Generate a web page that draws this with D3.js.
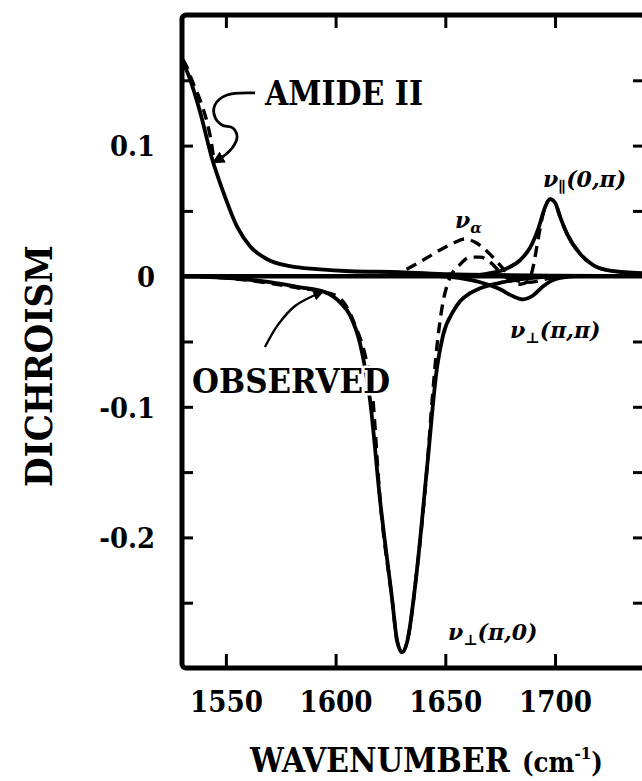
<!DOCTYPE html>
<html><head><meta charset="utf-8">
<script src="https://cdn.jsdelivr.net/npm/d3@7"></script>
<style>
html,body{margin:0;padding:0;background:#fff;}
svg{display:block;}
</style></head><body>
<svg id="chart" width="642" height="781"></svg>
<script>
// ---------- data ----------
const wavenumberDomain = [1530, 1741];
const dichroismDomain = [-0.3, 0.2];
const wavenumberTicks = [1550, 1600, 1650, 1700];
const dichroismLabelTicks = [0.1, 0, -0.1, -0.2];
const dichroismTicks = [0.15, 0.1, 0.05, 0, -0.05, -0.1, -0.15, -0.2, -0.25];

// calculated amide II (solid)
const amideIICalc = [[1530,0.164],[1531.4,0.160],[1538.2,0.126],[1543.7,0.090],[1548.7,0.065],[1555.1,0.038],[1561.0,0.023],[1568.8,0.013],[1579.2,0.0077],[1591.6,0.0054],[1606.6,0.0038],[1629.4,0.0031],[1652.2,0.0015],[1700,0.0005],[1741,0]];
// observed amide II (dashed)
const amideIIObs = [[1530.3,0.166],[1531.4,0.163],[1535.0,0.148],[1538.2,0.135],[1541.4,0.118],[1543.2,0.104],[1544.6,0.088]];
// nu_perp(pi,0) (solid)
const perpPi0 = [[1530,0],[1551.9,-0.0015],[1570.1,-0.0046],[1583.8,-0.0085],[1595.2,-0.0123],[1602.0,-0.020],[1606.6,-0.030],[1611.2,-0.052],[1615.7,-0.095],[1620.3,-0.172],[1625.8,-0.248],[1628.0,-0.279],[1630.3,-0.288],[1632.6,-0.280],[1637.2,-0.223],[1641.7,-0.146],[1646.3,-0.069],[1649.0,-0.045],[1653.6,-0.027],[1656.8,-0.019],[1661.3,-0.013],[1665.9,-0.0092],[1676.4,-0.0046],[1688.7,-0.0015],[1702.4,0]];
// nu_perp(pi,pi) (solid)
const perpPiPi = [[1647.6,0],[1656.8,-0.0015],[1665.9,-0.0046],[1675.0,-0.010],[1680.9,-0.0154],[1685.5,-0.0177],[1690.1,-0.0146],[1694.6,-0.0077],[1700.1,-0.0023],[1709.2,0]];
// nu_par(0,pi) (solid)
const paraZeroPi = [[1661.3,0],[1670.4,0.0023],[1677.3,0.0054],[1684.1,0.0123],[1688.7,0.022],[1692.3,0.036],[1695.5,0.053],[1697.8,0.059],[1700.1,0.056],[1702.4,0.045],[1705.6,0.032],[1711.5,0.017],[1717.4,0.0085],[1723.8,0.0046],[1732.0,0.0031],[1741,0.0023]];
// nu_alpha (dashed)
const nuAlpha = [[1624.8,0],[1629.4,0.003],[1638.5,0.011],[1647.6,0.020],[1654.5,0.026],[1659.0,0.0285],[1663.6,0.026],[1669.1,0.019],[1673.6,0.011],[1677.3,0.004],[1681.8,-0.003],[1688.7,-0.0046],[1697.8,-0.0015],[1707,0]];
// observed (dashed)
const observed = [[1530,0],[1550.5,-0.0015],[1570.1,-0.0054],[1583.8,-0.0092],[1592.9,-0.0115],[1600.7,-0.0154],[1604.3,-0.0215],[1608.9,-0.0377],[1613.4,-0.060],[1616.6,-0.087],[1620.3,-0.172],[1625.8,-0.248],[1628.0,-0.279],[1630.3,-0.288],[1632.6,-0.280],[1637.2,-0.223],[1641.7,-0.146],[1644.0,-0.095],[1646.3,-0.052],[1648.6,-0.023],[1651.3,-0.0046],[1656.8,0.0092],[1661.3,0.0146],[1665.9,0.0146],[1670.4,0.0108],[1675.0,0.0031],[1679.6,-0.0031],[1684.1,-0.0062],[1687.8,-0.0038],[1690.1,0.0077],[1691.9,0.0246],[1694.6,0.048],[1697.8,0.059],[1700.1,0.056],[1702.4,0.045],[1705.6,0.032],[1711.5,0.017],[1717.4,0.0085],[1723.8,0.0046],[1741,0.002]];
const zeroLine = [[1530,0],[1741,0]];

// annotations (data units)
const amideArrow = [[1563.3,0.1403],[1550.5,0.1387],[1545.0,0.1311],[1545.0,0.1219],[1548.2,0.1158],[1553.2,0.1135],[1555.1,0.1066],[1553.2,0.0989],[1549.6,0.0928],[1544.6,0.0874]];
const observedArrow = [[1567.8,-0.0542],[1573.7,-0.0373],[1581.5,-0.0228],[1593.8,-0.0121]];
const textLabels = [
  {text:"AMIDE II", at:[1567.8,0.131], width:158},
  {text:"OBSERVED", at:[1534.6,-0.0895], width:198, halo:true}
];
const bandLabels = [
  {main:"ν", sub:"∥", rest:"(0,π)", at:[1694.5,0.0683]},
  {main:"ν", sub:"α", rest:"", at:[1654.4,0.0369]},
  {main:"ν", sub:"⊥", rest:"(π,π)", at:[1679.5,-0.0473]},
  {main:"ν", sub:"⊥", rest:"(π,0)", at:[1651.2,-0.2785]}
];

// ---------- drawing ----------
const svg = d3.select("#chart");
const serif = "'DejaVu Serif Condensed','DejaVu Serif',serif";
const hand = "'DejaVu Serif','Liberation Serif',serif";

const x = d3.scaleLinear().domain(wavenumberDomain).range([182, 645]);
const y = d3.scaleLinear().domain(dichroismDomain).range([668, 15]);

function fitWidth(sel, target){
  const n = sel.node();
  const fs = parseFloat(sel.attr("font-size"));
  const w = n.getComputedTextLength();
  const nfs = fs * target / w;
  sel.attr("font-size", nfs);
  return nfs;
}

const defs = svg.append("defs");
defs.append("marker").attr("id","ah").attr("viewBox","0 0 10 10")
  .attr("refX",8).attr("refY",5).attr("markerWidth",4.5).attr("markerHeight",4.5)
  .attr("orient","auto").attr("markerUnits","strokeWidth")
  .append("path").attr("d","M0,0 L10,5 L0,10 z").attr("fill","#000");

const line = d3.line().x(d=>x(d[0])).y(d=>y(d[1])).curve(d3.curveMonotoneX);
const sline = d3.line().x(d=>x(d[0])).y(d=>y(d[1])).curve(d3.curveCatmullRom.alpha(0.5));

const plot = svg.append("g");
plot.append("path").datum(zeroLine).attr("d",line).attr("fill","none").attr("stroke","#000").attr("stroke-width",4.5);

[amideIICalc, perpPi0, perpPiPi, paraZeroPi].forEach(s=>{
  plot.append("path").datum(s).attr("d",line).attr("fill","none")
    .attr("stroke","#000").attr("stroke-width",3.8).attr("stroke-linejoin","round").attr("stroke-linecap","round");
});
[amideIIObs, nuAlpha, observed].forEach(s=>{
  plot.append("path").datum(s).attr("d",line).attr("fill","none")
    .attr("stroke","#000").attr("stroke-width",3.4).attr("stroke-dasharray","11,7");
});

// arrows
plot.append("path").datum(amideArrow).attr("d",sline).attr("fill","none")
  .attr("stroke","#000").attr("stroke-width",2.8).attr("marker-end","url(#ah)");
plot.append("path").datum(observedArrow).attr("d",sline).attr("fill","none")
  .attr("stroke","#000").attr("stroke-width",2.4).attr("marker-end","url(#ah)");

// annotation texts
textLabels.forEach(l=>{
  const t = svg.append("text").attr("x",x(l.at[0])).attr("y",y(l.at[1]))
    .attr("font-family",serif).attr("font-weight","bold").attr("font-size",28)
    .attr("fill","#000").text(l.text);
  if(l.halo) t.attr("stroke","#fff").attr("stroke-width",5).attr("paint-order","stroke").attr("stroke-linejoin","round");
  fitWidth(t, l.width);
});
bandLabels.forEach(l=>{
  const t = svg.append("text").attr("x",x(l.at[0])).attr("y",y(l.at[1]))
    .attr("font-family",hand).attr("font-style","italic").attr("font-weight","bold")
    .attr("font-size",22).attr("fill","#000");
  t.append("tspan").text(l.main);
  t.append("tspan").attr("font-size",15).attr("dy",5).text(l.sub);
  if(l.rest) t.append("tspan").attr("dy",-5).text(l.rest);
});

// frame
svg.append("rect").attr("x",x(wavenumberDomain[0])).attr("y",y(dichroismDomain[1]))
  .attr("width",x(wavenumberDomain[1])-x(wavenumberDomain[0]))
  .attr("height",y(dichroismDomain[0])-y(dichroismDomain[1]))
  .attr("rx",4).attr("fill","none").attr("stroke","#000").attr("stroke-width",5);

// axes
const gb = svg.append("g").attr("transform",`translate(0,${y(dichroismDomain[0])})`)
  .call(d3.axisBottom(x).tickValues(wavenumberTicks).tickSize(-14).tickFormat(d3.format("d")));
gb.select(".domain").remove();
gb.selectAll("line").attr("stroke","#000").attr("stroke-width",3);
gb.selectAll("text").attr("y",44).attr("dy",0).attr("font-family",serif).attr("font-weight","bold").attr("font-size",28).attr("fill","#000");
{
  const fs = fitWidth(gb.select("text"), 73);
  gb.selectAll("text").attr("font-size",fs);
}

const gt = svg.append("g").attr("transform",`translate(0,${y(dichroismDomain[1])})`)
  .call(d3.axisTop(x).tickValues(wavenumberTicks).tickSize(-13).tickFormat(""));
gt.select(".domain").remove();
gt.selectAll("line").attr("stroke","#000").attr("stroke-width",3);

const gl = svg.append("g").attr("transform",`translate(${x(wavenumberDomain[0])},0)`)
  .call(d3.axisLeft(y).tickValues(dichroismTicks).tickSize(-11).tickPadding(27)
    .tickFormat(d=> dichroismLabelTicks.includes(d) ? (d===0 ? "0" : d.toFixed(1)) : ""));
gl.select(".domain").remove();
gl.selectAll("line").attr("stroke","#000").attr("stroke-width",3);
gl.selectAll("text").attr("font-family",serif).attr("font-weight","bold").attr("font-size",28).attr("fill","#000").attr("dy","0.36em");
{
  const t01 = gl.selectAll("text").filter(d=>d===0.1);
  const fs = fitWidth(t01, 45);
  gl.selectAll("text").attr("font-size",fs);
}

const gr = svg.append("g").attr("transform",`translate(${x(wavenumberDomain[1])},0)`)
  .call(d3.axisRight(y).tickValues(dichroismTicks.filter(d=>d!==0)).tickSize(-12).tickFormat(""));
gr.select(".domain").remove();
gr.selectAll("line").attr("stroke","#000").attr("stroke-width",3);

// axis titles
const yt = svg.append("text").attr("transform","translate(52,366) rotate(-90)")
  .attr("text-anchor","middle").attr("font-family",serif).attr("font-weight","bold")
  .attr("font-size",32).attr("fill","#000").text("DICHROISM");
fitWidth(yt, 242);

const xt = svg.append("text").attr("x",250).attr("y",772)
  .attr("font-family",serif).attr("font-weight","bold").attr("font-size",30).attr("fill","#000").text("WAVENUMBER");
fitWidth(xt, 260);
const ut = svg.append("text").attr("x",522).attr("y",772)
  .attr("font-family",serif).attr("font-weight","bold").attr("font-size",21).attr("fill","#000");
ut.append("tspan").text("(cm");
ut.append("tspan").attr("font-size",13).attr("dy",-10).text("-1");
ut.append("tspan").attr("dy",10).text(")");
{
  const w = ut.node().getBBox().width;
  const k = 81 / w;
  ut.attr("font-size", 21*k);
  ut.selectAll("tspan").filter((d,i)=>i===1).attr("font-size",13*k).attr("dy",-10*k);
  ut.selectAll("tspan").filter((d,i)=>i===2).attr("dy",10*k);
}
</script>
</body></html>
